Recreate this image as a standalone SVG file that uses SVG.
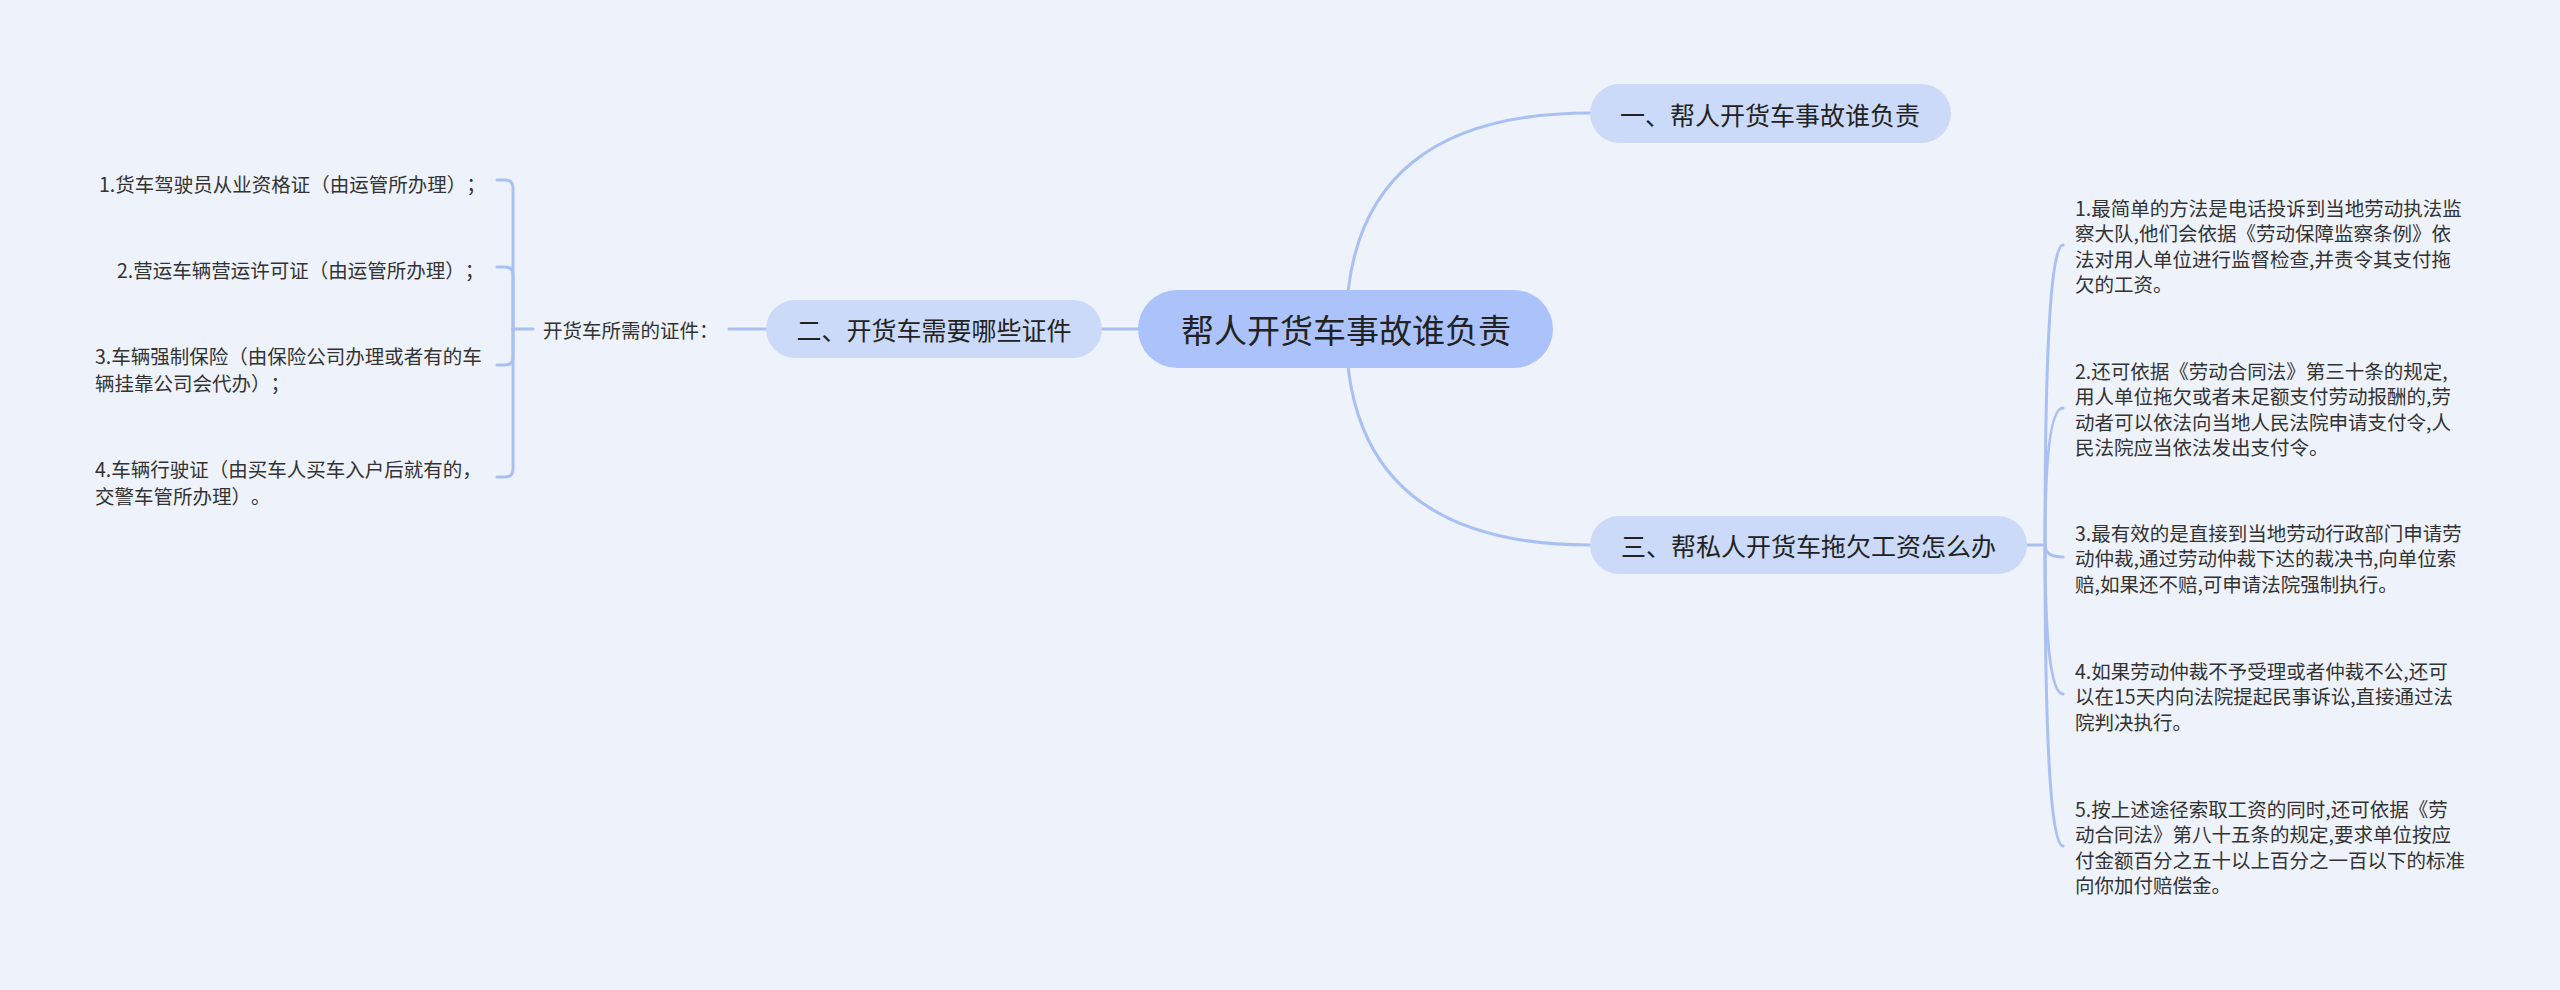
<svg xmlns="http://www.w3.org/2000/svg" width="2560" height="990" viewBox="0 0 2560 990">
<style>
.bg{fill:#eef2fb}
.ln{fill:none;stroke:#a9c0f3;stroke-width:3;stroke-linecap:round}
.root{fill:#abc3fa}
.br{fill:#cbdaf9}
text{font-family:"Noto Sans CJK SC","Noto Sans",sans-serif;dominant-baseline:central;text-spacing-trim:space-all}
.rt{font-size:33px;fill:#222;text-anchor:middle}
.bt{font-size:25px;fill:#222;text-anchor:middle}
.lf{font-size:19.5px;fill:#333}
</style>
<rect class="bg" x="0" y="0" width="2560" height="990"/>
<g id="connectors">
<path class="ln" d="M1346,329 Q1346,113 1590,113"/>
<path class="ln" d="M1346,329 Q1346,545 1590,545"/>
<path class="ln" d="M1138,329 L1102,329"/>
<path class="ln" d="M766,329 L729,329"/>
<path class="ln" d="M533,329 L513,329"/>
<path class="ln" d="M513,329 L513,188 Q513,180 505,180 L497,180"/>
<path class="ln" d="M513,329 L513,275 Q513,267 505,267 L497,267"/>
<path class="ln" d="M513,329 L513,357 Q513,365 505,365 L497,365"/>
<path class="ln" d="M513,329 L513,469 Q513,477 505,477 L497,477"/>
<path class="ln" d="M2027,545 L2045,545"/>
<path class="ln" d="M2045,545 Q2045,245 2063,245"/>
<path class="ln" d="M2045,545 Q2045,408 2063,408"/>
<path class="ln" d="M2045,545 Q2045,557 2063,557"/>
<path class="ln" d="M2045,545 Q2045,694 2063,694"/>
<path class="ln" d="M2045,545 Q2045,846 2063,846"/>
</g>
<g id="root">
<rect class="root" x="1138" y="290" width="415" height="78" rx="39"/>
<text class="rt" x="1346" y="329">帮人开货车事故谁负责</text>
</g>
<g id="b1">
<rect class="br" x="1590" y="84" width="361" height="59" rx="29.5"/>
<text class="bt" x="1770" y="113.5">一、帮人开货车事故谁负责</text>
</g>
<g id="b2">
<rect class="br" x="766" y="300" width="336" height="58" rx="29"/>
<text class="bt" x="934" y="329">二、开货车需要哪些证件</text>
</g>
<g id="b3">
<rect class="br" x="1590" y="516" width="437" height="58" rx="29"/>
<text class="bt" x="1808.5" y="545">三、帮私人开货车拖欠工资怎么办</text>
</g>
<g id="b2label">
<text class="lf" x="543" y="329">开货车所需的证件：</text>
</g>
<g id="b2i1"><text class="lf" x="99" y="183">1.货车驾驶员从业资格证（由运管所办理）；</text></g>
<g id="b2i2"><text class="lf" x="117" y="269">2.营运车辆营运许可证（由运管所办理）；</text></g>
<g id="b2i3"><text class="lf" x="95" y="355">3.车辆强制保险（由保险公司办理或者有的车</text><text class="lf" x="95" y="382">辆挂靠公司会代办）；</text></g>
<g id="b2i4"><text class="lf" x="95" y="468">4.车辆行驶证（由买车人买车入户后就有的，</text><text class="lf" x="95" y="495">交警车管所办理）。</text></g>
<g id="b3i1">
<text class="lf" x="2075" y="207">1.最简单的方法是电话投诉到当地劳动执法监</text>
<text class="lf" x="2075" y="232.6">察大队,他们会依据《劳动保障监察条例》依</text>
<text class="lf" x="2075" y="258.2">法对用人单位进行监督检查,并责令其支付拖</text>
<text class="lf" x="2075" y="283.8">欠的工资。</text>
</g>
<g id="b3i2">
<text class="lf" x="2075" y="370">2.还可依据《劳动合同法》第三十条的规定,</text>
<text class="lf" x="2075" y="395.6">用人单位拖欠或者未足额支付劳动报酬的,劳</text>
<text class="lf" x="2075" y="421.2">动者可以依法向当地人民法院申请支付令,人</text>
<text class="lf" x="2075" y="446.8">民法院应当依法发出支付令。</text>
</g>
<g id="b3i3">
<text class="lf" x="2075" y="532">3.最有效的是直接到当地劳动行政部门申请劳</text>
<text class="lf" x="2075" y="557.6">动仲裁,通过劳动仲裁下达的裁决书,向单位索</text>
<text class="lf" x="2075" y="583.2">赔,如果还不赔,可申请法院强制执行。</text>
</g>
<g id="b3i4">
<text class="lf" x="2075" y="670">4.如果劳动仲裁不予受理或者仲裁不公,还可</text>
<text class="lf" x="2075" y="695.6">以在15天内向法院提起民事诉讼,直接通过法</text>
<text class="lf" x="2075" y="721.2">院判决执行。</text>
</g>
<g id="b3i5">
<text class="lf" x="2075" y="808">5.按上述途径索取工资的同时,还可依据《劳</text>
<text class="lf" x="2075" y="833.6">动合同法》第八十五条的规定,要求单位按应</text>
<text class="lf" x="2075" y="859.2">付金额百分之五十以上百分之一百以下的标准</text>
<text class="lf" x="2075" y="884.8">向你加付赔偿金。</text>
</g>
</svg>
